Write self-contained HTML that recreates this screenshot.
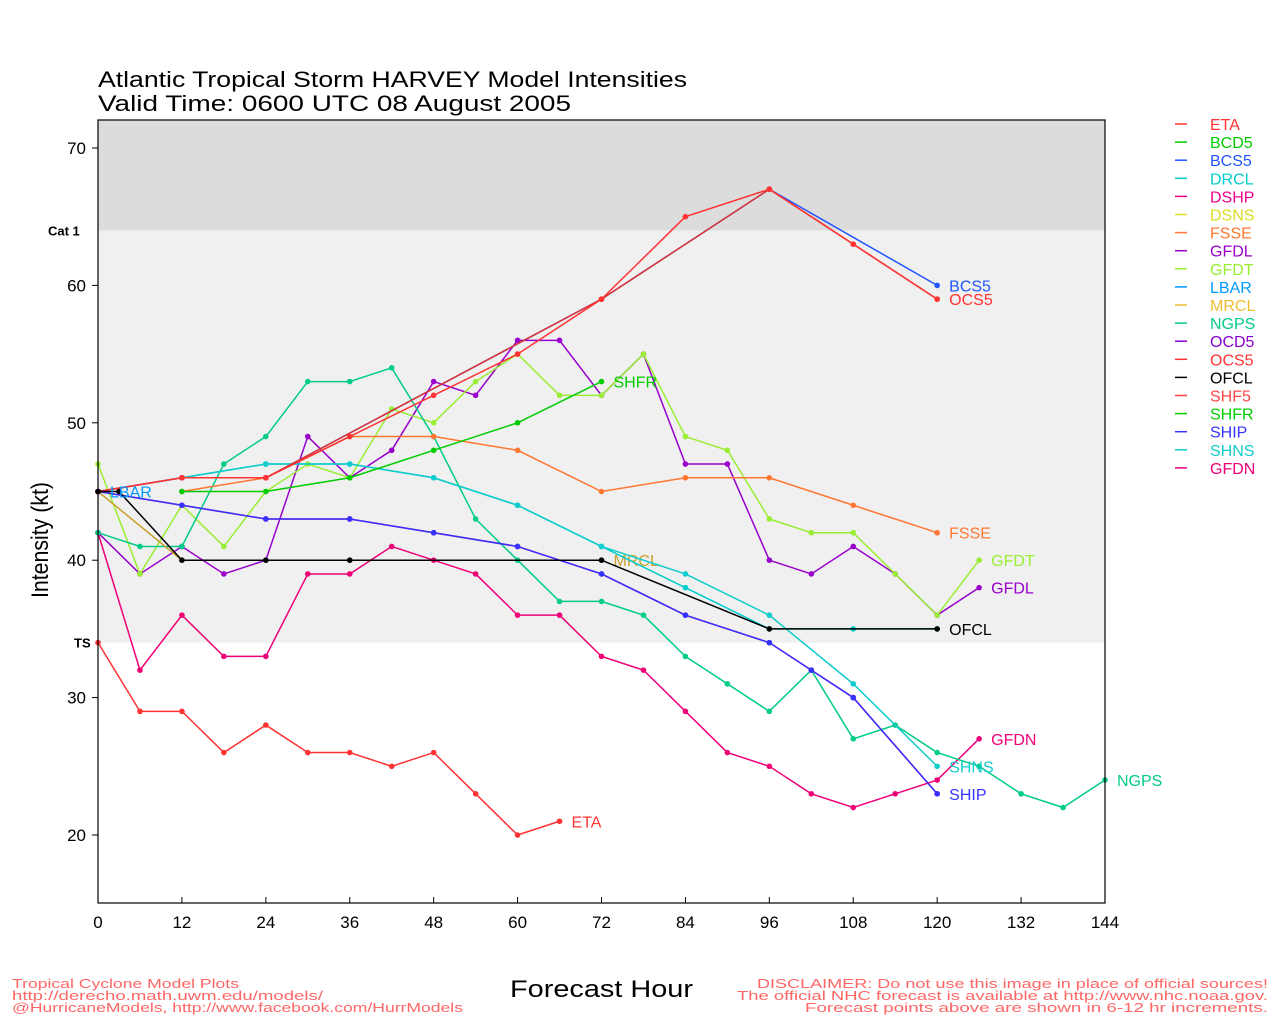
<!DOCTYPE html>
<html><head><meta charset="utf-8"><style>
body{margin:0;background:#fff;width:1280px;height:1024px;overflow:hidden;font-family:"Liberation Sans",sans-serif}
svg text{font-family:"Liberation Sans",sans-serif}
</style></head><body>
<svg id="c" width="1280" height="1024" xmlns="http://www.w3.org/2000/svg">
<text x="98" y="87" font-size="22" textLength="589" lengthAdjust="spacingAndGlyphs">Atlantic Tropical Storm HARVEY Model Intensities</text>
<text x="98" y="111" font-size="22" textLength="473" lengthAdjust="spacingAndGlyphs">Valid Time: 0600 UTC 08 August 2005</text>
<text x="48" y="598" font-size="24" transform="rotate(-90 48 598)" textLength="116" lengthAdjust="spacingAndGlyphs">Intensity (kt)</text>
<text x="510" y="997" font-size="24" textLength="183" lengthAdjust="spacingAndGlyphs">Forecast Hour</text>
<g font-size="13" fill="#f66">
<text x="12" y="988" textLength="227" lengthAdjust="spacingAndGlyphs">Tropical Cyclone Model Plots</text>
<text x="12" y="1000" textLength="311" lengthAdjust="spacingAndGlyphs">http://derecho.math.uwm.edu/models/</text>
<text x="12" y="1012" textLength="451" lengthAdjust="spacingAndGlyphs">@HurricaneModels, http://www.facebook.com/HurrModels</text>
</g>
<g font-size="13" fill="#f66">
<text x="757" y="988" textLength="511" lengthAdjust="spacingAndGlyphs">DISCLAIMER: Do not use this image in place of official sources!</text>
<text x="737" y="1000" textLength="531" lengthAdjust="spacingAndGlyphs">The official NHC forecast is available at http://www.nhc.noaa.gov.</text>
<text x="805" y="1012" textLength="463" lengthAdjust="spacingAndGlyphs">Forecast points above are shown in 6-12 hr increments.</text>
</g>
<g id="plot"></g>
<g id="legend"></g>
</svg>
<script>
const xTicks=[0,12,24,36,48,60,72,84,96,108,120,132,144];
const yTicks=[20,30,40,50,60,70];
const names=["ETA","BCD5","BCS5","DRCL","DSHP","DSNS","FSSE","GFDL","GFDT","LBAR","MRCL","NGPS","OCD5","OCS5","OFCL","SHF5","SHFR","SHIP","SHNS","GFDN"];
const colors=["#f33","#0c0","#25f","#0cc","#e08","#dd2","#f73","#90c","#9e3","#09f","#eb3","#0c8","#80c","#f33","#000","#f44","#0c0","#33f","#1cc","#e07"];
const etaH=[0,6,12,18,24,30,36,42,48,54,60,66];
const etaV=[34,29,29,26,28,26,26,25,26,23,20,21];
const gfdnH=[0,6,12,18,24,30,36,42,48,54,60,66,72,78,84,90,96,102,108,114,120,126];
const gfdnV=[42,32,36,33,33,39,39,41,40,39,36,36,33,32,29,26,25,23,22,23,24,27];
const gfdlV=[42,39,41,39,40,49,46,48,53,52,56,56,52,55,47,47,40,39,41,39,36,38];
const gfdtV=[47,39,44,41,45,47,46,51,50,53,55,52,52,55,49,48,43,42,42,39,36,40];
const ngpsH=[0,6,12,18,24,30,36,42,48,54,60,66,72,78,84,90,96,102,108,114,120,126,132,138,144];
const ngpsV=[42,41,41,47,49,53,53,54,49,43,40,37,37,36,33,31,29,32,27,28,26,25,23,22,24];
const shfrH=[12,24,36,48,60,72];
const shfrV=[45,45,46,48,50,53];
const fsseH=[12,24,36,48,60,72,84,96,108,120];
const fsseV=[45,46,49,49,48,45,46,46,44,42];
const ofclH=[0,3,12,24,36,72,96,120];
const ofclV=[45,45,40,40,40,40,35,35];
const ocsH=[0,12,24,36,48,60,72,84,96,108,120];
const ocsV=[45,46,46,49,52,55,59,65,67,63,59];
const ocdH=[0,12,24,72,96,108,120];
const ocdV=[45,46,46,59,67,63,59];
const bcsH=[0,12,24,72,96,120];
const bcsV=[45,46,46,59,67,60];
const shipH=[0,12,24,36,48,60,72,84,96,102,108,120];
const shipV=[45,44,43,43,42,41,39,36,34,32,30,23];
const drclH=[0,12,24,36,48,60,72,84,96,108,120];
const drclV=[45,46,47,47,46,44,41,38,35,35,35];
const shnsV=[45,46,47,47,46,44,41,39,36,31,25];
const mrclH=[0,12,24,36,72];
const mrclV=[45,40,40,40,40];
const series=[
 {n:"ETA",c:"#f33",h:etaH,v:etaV,l:"ETA"},
 {n:"GFDN",c:"#e07",h:gfdnH,v:gfdnV,l:"GFDN"},
 {n:"GFDL",c:"#90c",h:gfdnH,v:gfdlV,l:"GFDL"},
 {n:"GFDT",c:"#9e3",h:gfdnH,v:gfdtV,l:"GFDT"},
 {n:"NGPS",c:"#0c8",h:ngpsH,v:ngpsV,l:"NGPS"},
 {n:"FSSE",c:"#f73",h:fsseH,v:fsseV,l:"FSSE"},
 {n:"MRCL",c:"#c9a030",h:mrclH,v:mrclV,l:"MRCL"},
 {n:"DRCL",c:"#0cc",h:drclH,v:drclV,l:""},
 {n:"SHNS",c:"#1cc",h:drclH,v:shnsV,l:"SHNS"},
 {n:"DSHP",c:"#e08",h:shipH,v:shipV,l:""},
 {n:"SHIP",c:"#33f",h:shipH,v:shipV,l:"SHIP"},
 {n:"SHFR",c:"#0c0",h:shfrH,v:shfrV,l:"SHFR"},
 {n:"BCS5",c:"#25f",h:bcsH,v:bcsV,l:"BCS5"},
 {n:"OCD5",c:"#d33",h:ocdH,v:ocdV,l:""},
 {n:"OCS5",c:"#f33",h:ocsH,v:ocsV,l:"OCS5"},
 {n:"OFCL",c:"#000",h:ofclH,v:ofclV,l:"OFCL"}
];
const X0=98,X1=1105,YT=120,YB=903;
const xs=h=>X0+h*(X1-X0)/144;
const ys=k=>835-(k-20)*13.74;
const NS="http://www.w3.org/2000/svg";
const plot=document.getElementById('plot');
function mk(t,a,p){const e=document.createElementNS(NS,t);for(const k in a)e.setAttribute(k,a[k]);(p||plot).appendChild(e);return e;}
let r=mk('rect',{x:X0,y:YT,width:X1-X0,height:ys(64)-YT,fill:"#dcdcdc"});


r=mk('rect',{x:X0,y:ys(64),width:X1-X0,height:ys(34)-ys(64),fill:"#f0f0f0"});


let t=mk('text',{x:48,y:ys(64)+5,"font-size":13,"font-weight":"bold"});t.textContent="Cat 1";


t=mk('text',{x:74,y:ys(34)+5,"font-size":13,"font-weight":"bold"});t.textContent="TS";


xTicks.forEach(h=>{mk('line',{x1:xs(h),x2:xs(h),y1:YB,y2:YB-6,stroke:"#000"});
 let tt=mk('text',{x:xs(h),y:YB+25,"font-size":17,"text-anchor":"middle"});tt.textContent=h;
 
 });
yTicks.forEach(k=>{mk('line',{x1:X0,x2:X0-6,y1:ys(k),y2:ys(k),stroke:"#000"});
 let tt=mk('text',{x:X0-12,y:ys(k)+6,"font-size":17,"text-anchor":"end"});tt.textContent=k;
 
 });
series.forEach(s=>{
 const g=mk('g',{});
 
 
 const pts=s.h.map((h,i)=>xs(h)+","+ys(s.v[i])).join(" ");
 mk('polyline',{points:pts,fill:"none",stroke:s.c,"stroke-width":1.5},g);
 s.h.forEach((h,i)=>{const d=mk('circle',{cx:xs(h),cy:ys(s.v[i]),r:2.8,fill:s.c},g);
  
  });
 if(s.l){const li=s.h.length-1;const tx=mk('text',{x:xs(s.h[li])+12,y:ys(s.v[li])+6,"font-size":16,fill:s.c},g);tx.textContent=s.l;}
});
let lb=mk('text',{x:110,y:ys(45)+6,"font-size":16,fill:"#09f"});lb.textContent="LBAR";


mk('rect',{x:X0,y:YT,width:X1-X0,height:YB-YT,fill:"none",stroke:"#000","stroke-width":1.2});
const leg=document.getElementById('legend');
names.forEach((n,i)=>{const y=124+i*18.1;
 const g=mk('g',{},leg);
 
 
 mk('line',{x1:1175,x2:1187,y1:y,y2:y,stroke:colors[i],"stroke-width":1.5},g);
 const tx=mk('text',{x:1210,y:y+6,"font-size":16,fill:colors[i]},g);tx.textContent=n;});
</script>
</body></html>
